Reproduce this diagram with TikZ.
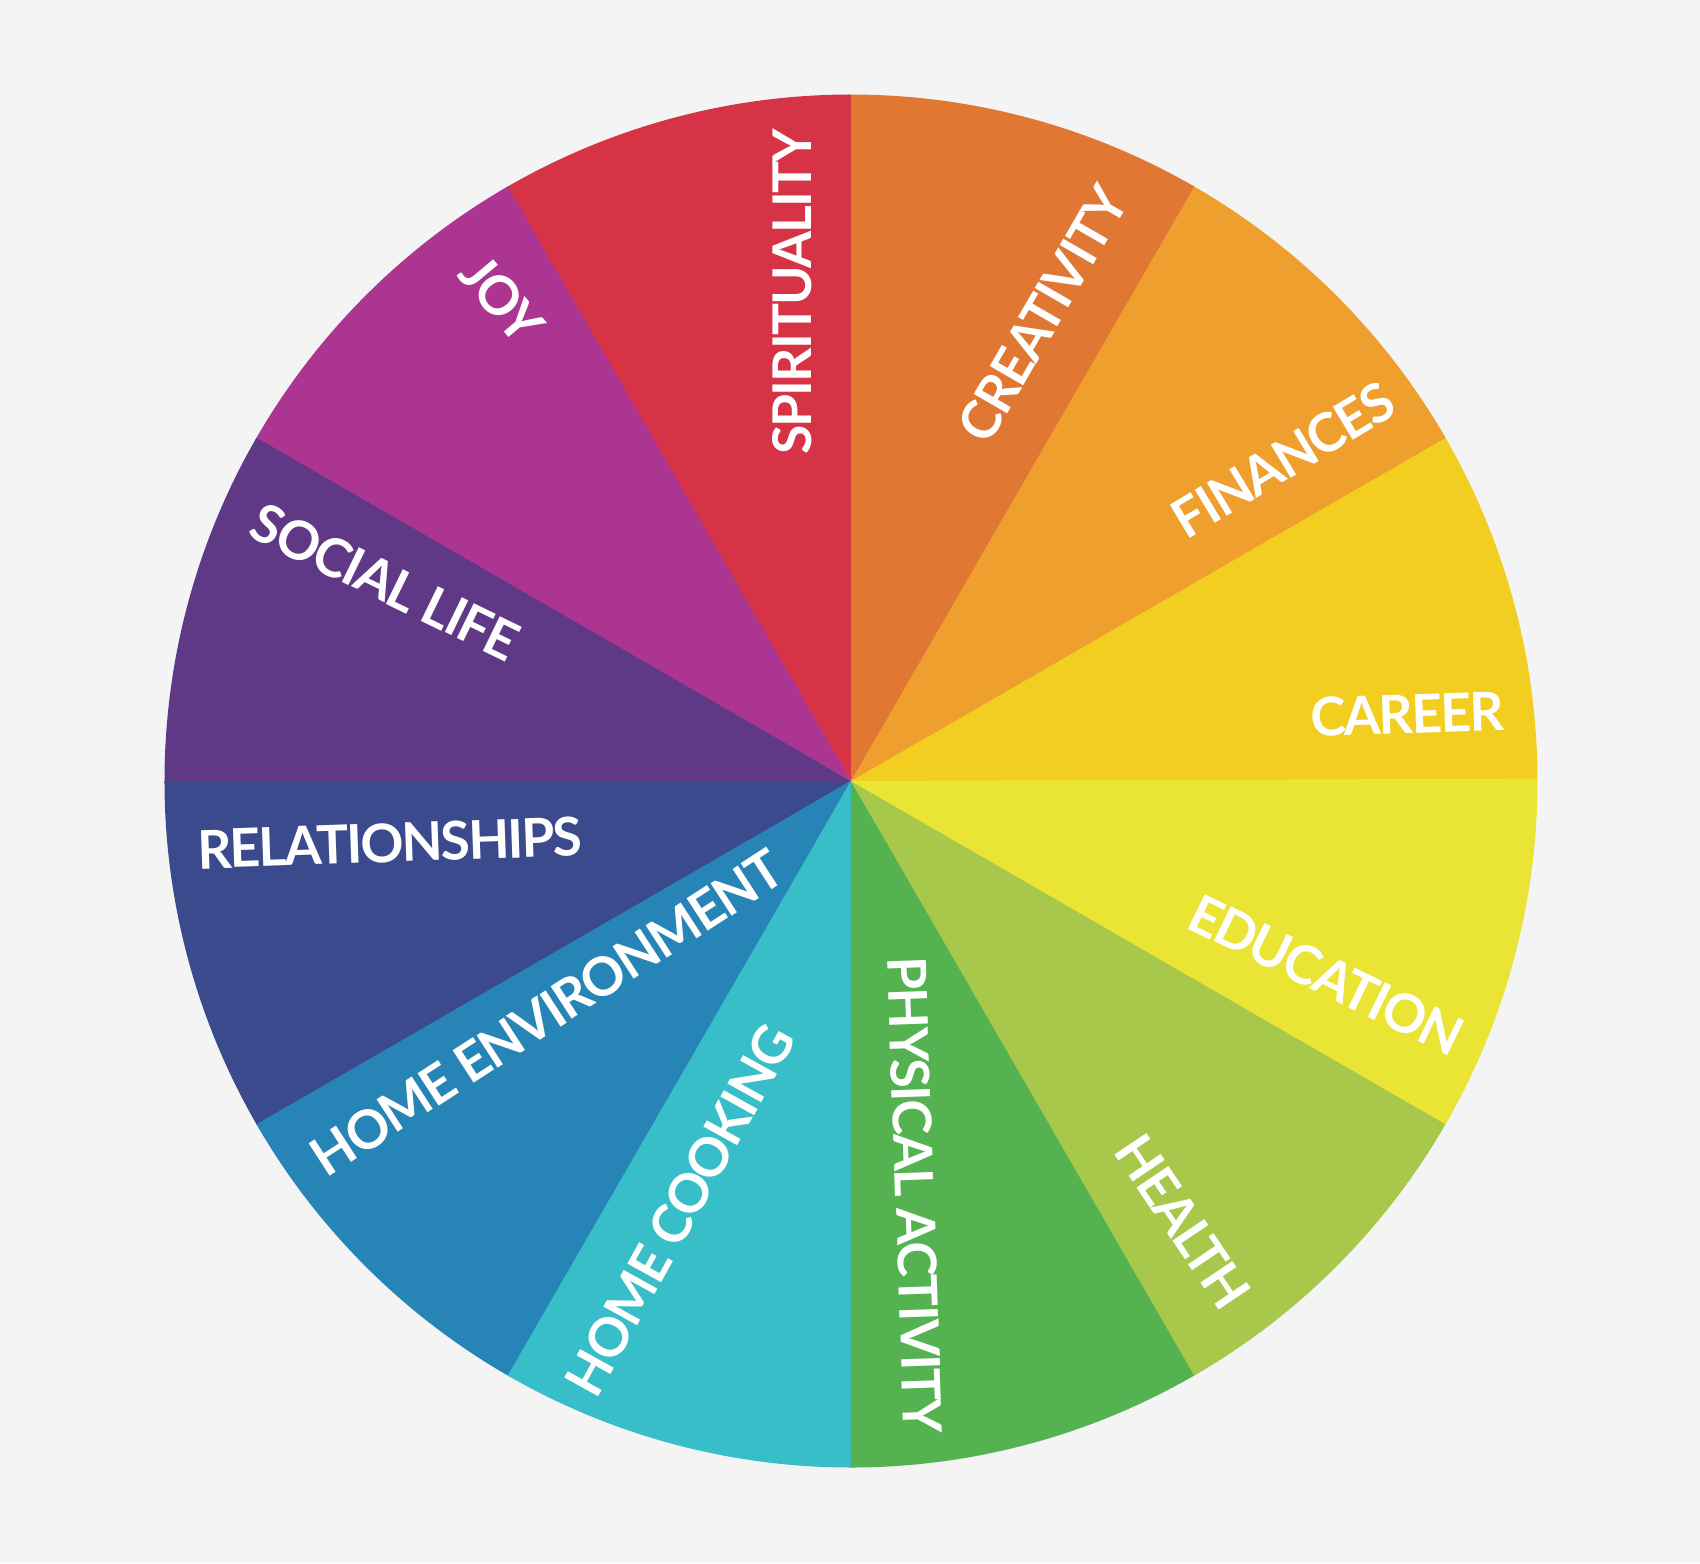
\documentclass[tikz,border=0pt]{standalone}
\usepackage{fontspec}
\setmainfont{Lato}
\usetikzlibrary{positioning}

\definecolor{bgcol}{HTML}{F4F4F4}
\definecolor{spiritcol}{HTML}{D63346}
\definecolor{creatcol}{HTML}{E07834}
\definecolor{fincol}{HTML}{EE9F2E}
\definecolor{careercol}{HTML}{F1CE1F}
\definecolor{educol}{HTML}{EAE434}
\definecolor{healthcol}{HTML}{A7C84A}
\definecolor{physcol}{HTML}{54B251}
\definecolor{cookcol}{HTML}{38BEC8}
\definecolor{homecol}{HTML}{2685B6}
\definecolor{relcol}{HTML}{3A4A8C}
\definecolor{socialcol}{HTML}{5F3986}
\definecolor{joycol}{HTML}{AD3592}

\begin{document}
\begin{tikzpicture}[every node/.style={scale=1.0},
  wheellabel/.style={text=white, inner sep=0pt,
    font=\fontsize{15.2}{17}\selectfont\bfseries\addfontfeature{LetterSpace=-3.5}}]

  % Background
  \fill[bgcol] (-8.51,-7.82) rectangle (8.49,7.81);
  \useasboundingbox (-8.51,-7.82) rectangle (8.49,7.81);

  % Draw sectors
  \foreach \a/\col in {0/careercol, 30/fincol, 60/creatcol, 90/spiritcol,
                       120/joycol, 150/socialcol, 180/relcol, 210/homecol,
                       240/cookcol, 270/physcol, 300/healthcol, 330/educol}
    \fill[\col] (0,0) -- (\a:6.865) arc (\a:\a+30.2:6.865) -- cycle;

  % Labels, upper half
  \node[wheellabel, rotate=90]  (spirituality) at (-0.59,4.89) {SPIRITUALITY};
  \node[wheellabel, rotate=60]  (creativity)   at (1.92,4.67)  {CREATIVITY};
  \node[wheellabel, rotate=31]  (finances)     at (4.32,3.21)  {FINANCES};
  \node[wheellabel, rotate=2]   (career)       at (5.56,0.67)  {CAREER};
  \node[wheellabel, rotate=-50] (joy)          at (-3.49,4.82) {JOY};
  \node[wheellabel, rotate=-26] (sociallife)   at (-4.66,1.99) {SOCIAL LIFE};

  % Labels, lower half
  \node[wheellabel, rotate=-26] (education)    at (4.75,-1.94) {EDUCATION};
  \node[wheellabel, rotate=-56] (health)       at (3.32,-4.41) {HEALTH};
  \node[wheellabel, rotate=-88] (physical)     at (0.64,-4.14) {PHYSICAL ACTIVITY};
  \node[wheellabel, rotate=61]  (homecooking)  at (-1.71,-4.29) {HOME COOKING};
  \node[wheellabel, rotate=33]  (homeenv)      at (-3.04,-2.32) {HOME ENVIRONMENT};
  \node[wheellabel, rotate=2]   (relationships) at (-4.61,-0.62) {RELATIONSHIPS};

\end{tikzpicture}
\end{document}
